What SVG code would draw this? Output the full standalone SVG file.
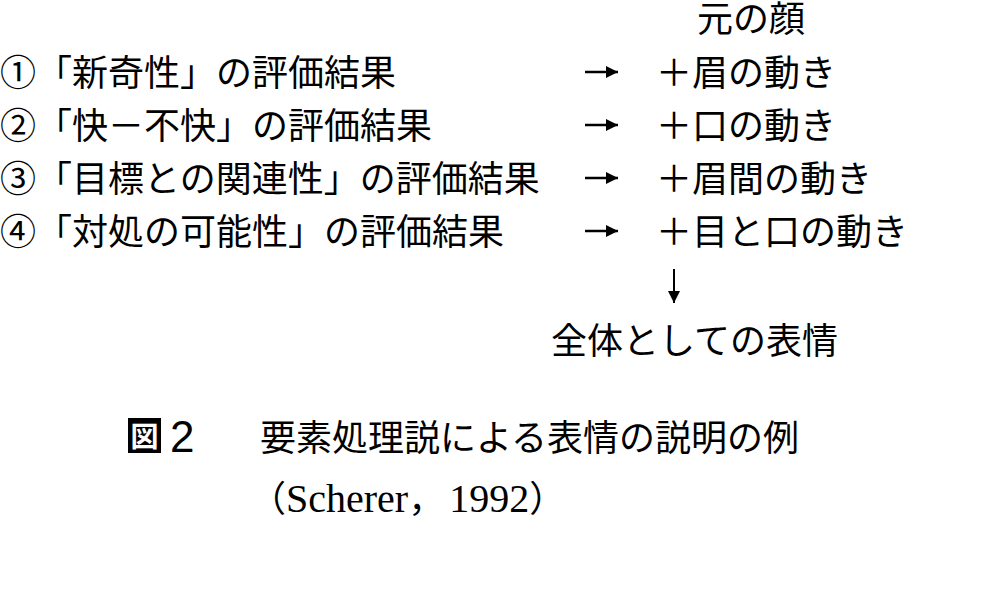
<svg xmlns="http://www.w3.org/2000/svg" width="1000" height="615" viewBox="0 0 1000 615">
<defs>
<style>
.t{font-family:"Liberation Serif","Noto Sans CJK JP",serif;font-size:36px;fill:#000}
.g{font-family:"Noto Sans CJK JP",sans-serif;font-size:36px;fill:#000}
.l{font-size:40px}
.c{stroke:#000;fill:none}
</style>
<marker id="ah" markerWidth="12" markerHeight="12" viewBox="0 0 12 12" refX="12" refY="6" orient="auto" markerUnits="userSpaceOnUse">
<path d="M0,0 L12,6 L0,12 Z" fill="#000"/>
</marker>
</defs>
<rect width="1000" height="615" fill="#fff"/>
<g id="face"><text class="t" x="697" y="32">元の顔</text></g>
<g id="row1"><text class="t" x="0" y="86">①「新奇性」の評価結果</text></g>
<g id="row2"><text class="t" x="0" y="139">②「快－不快」の評価結果</text></g>
<g id="row3"><text class="t" x="0" y="192">③「目標との関連性」の評価結果</text></g>
<g id="row4"><text class="t" x="0" y="245">④「対処の可能性」の評価結果</text></g>
<g id="res1"><text class="t" x="656" y="86">＋眉の動き</text></g>
<g id="res2"><text class="t" x="656" y="139">＋口の動き</text></g>
<g id="res3"><text class="t" x="656" y="192">＋眉間の動き</text></g>
<g id="res4"><text class="t" x="656" y="245">＋目と口の動き</text></g>
<g id="whole"><text class="t" x="551" y="354">全体としての表情</text></g>
<g id="connectors">
<line class="c" x1="585" y1="72" x2="618" y2="72" stroke-width="2.5" marker-end="url(#ah)"/>
<line class="c" x1="585" y1="125" x2="618" y2="125" stroke-width="2.5" marker-end="url(#ah)"/>
<line class="c" x1="585" y1="178" x2="618" y2="178" stroke-width="2.5" marker-end="url(#ah)"/>
<line class="c" x1="585" y1="231" x2="618" y2="231" stroke-width="2.5" marker-end="url(#ah)"/>
<line class="c" x1="674" y1="269" x2="674" y2="303" stroke-width="2" marker-end="url(#ah)"/>
</g>
<g id="caption">
<rect x="128" y="418" width="33" height="35" fill="#000"/>
<text x="144.5" y="447" text-anchor="middle" style="font-family:'Noto Sans CJK JP',sans-serif;font-size:28px;font-weight:bold;fill:#fff">図</text>
<text x="170" y="452" style="font-family:'Liberation Sans',sans-serif;font-size:44px;fill:#000">2</text>
<text class="g" x="260" y="451">要素処理説による表情の説明の例</text>
<text class="t" x="250" y="512">（<tspan class="l">Scherer</tspan>，<tspan class="l" dx="5">1992</tspan>）</text>
</g>
</svg>
